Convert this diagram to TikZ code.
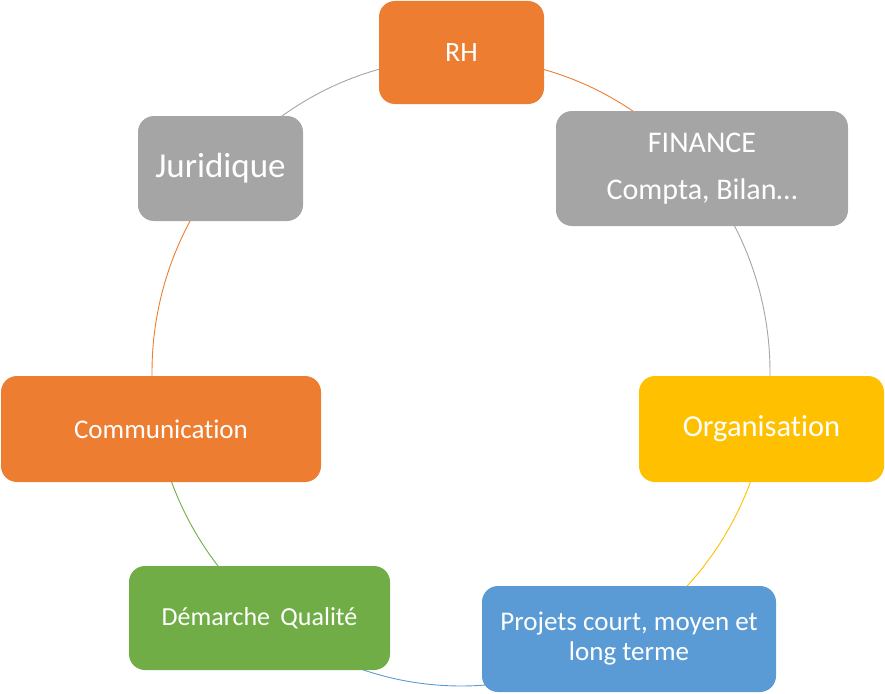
\documentclass[tikz,border=0pt]{standalone}
\usepackage{fontspec}
\setmainfont{Carlito}[Ligatures={NoCommon}]
\definecolor{cOrange}{HTML}{ED7D31}
\definecolor{cGrey}{HTML}{A5A5A5}
\definecolor{cYellow}{HTML}{FFC000}
\definecolor{cBlue}{HTML}{5B9BD5}
\definecolor{cGreen}{HTML}{70AD47}
\begin{document}
\begin{tikzpicture}[x=1pt,y=-1pt,
  box/.style={rounded corners=16pt, inner sep=0pt, text=white, align=center, anchor=center},
  ring/.style={line width=0.9pt}]
\useasboundingbox (0,0) rectangle (885,693);
\coordinate (c) at (461,372);
% ring arcs (parametric angles on ellipse, pixel space)
\draw[ring, cOrange] (c) ++(-90:309 and 314) arc[start angle=-90, end angle=-39.8, x radius=309, y radius=314];
\draw[ring, cGrey]   (c) ++(-39.8:309 and 314) arc[start angle=-39.8, end angle=10.6, x radius=309, y radius=314];
\draw[ring, cYellow] (c) ++(10.6:309 and 314) arc[start angle=10.6, end angle=57.4, x radius=309, y radius=314];
\draw[ring, cBlue]   (c) ++(57.4:309 and 314) arc[start angle=57.4, end angle=129.9, x radius=309, y radius=314];
\draw[ring, cGreen]  (c) ++(129.9:309 and 314) arc[start angle=129.9, end angle=169.4, x radius=309, y radius=314];
\draw[ring, cOrange] (c) ++(169.4:309 and 314) arc[start angle=169.4, end angle=219.8, x radius=309, y radius=314];
\draw[ring, cGrey]   (c) ++(219.8:309 and 314) arc[start angle=219.8, end angle=270, x radius=309, y radius=314];
% boxes
\node[box, fill=cOrange, minimum width=165pt, minimum height=103pt,
  font=\fontsize{28}{34}\selectfont] (rh) at (461.5,52.5) {RH};
\node[box, fill=cGrey, minimum width=292pt, minimum height=115pt,
  font=\fontsize{30}{47}\selectfont] (fin) at (702,168.5) {\raisebox{-2pt}{FINANCE}\\\raisebox{-2pt}{Compta, Bilan…}};
\node[box, fill=cGrey, minimum width=165pt, minimum height=105pt,
  font=\fontsize{35}{42}\selectfont] (jur) at (220.5,168.5) {Juridique};
\node[box, fill=cYellow, minimum width=245pt, minimum height=106pt,
  font=\fontsize{30.5}{36}\selectfont] (org) at (761.5,429) {\raisebox{-2pt}{Organisation}};
\node[box, fill=cOrange, minimum width=320pt, minimum height=106pt,
  font=\fontsize{27}{32}\selectfont] (com) at (161,429) {Communication};
\node[box, fill=cGreen, minimum width=261pt, minimum height=104pt,
  font=\fontsize{26}{31}\selectfont] (dem) at (259.5,618) {Démarche\hspace{0.4em}Qualité};
\node[box, fill=cBlue, minimum width=294pt, minimum height=106pt,
  font=\fontsize{27}{30}\selectfont] (proj) at (629,639) {Projets court, moyen et\\long terme};
\end{tikzpicture}
\end{document}
